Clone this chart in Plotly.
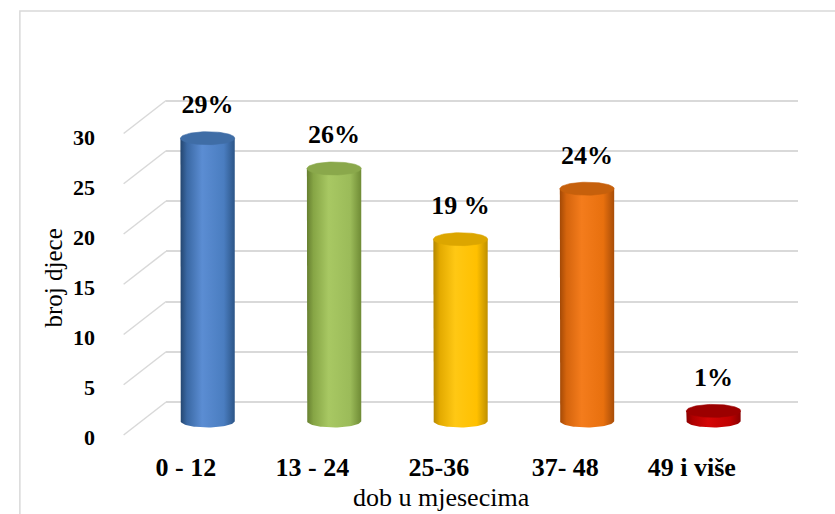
import numpy as np
import plotly.graph_objects as go

# ---- data ----
categories = ["0 - 12", "13 - 24", "25-36", "37- 48", "49 i više"]
counts = [28, 25, 18, 23, 1]
pct_labels = ["29%", "26%", "19 %", "24%", "1%"]
y_ticks = [0, 5, 10, 15, 20, 25, 30]
y_title = "broj djece"
x_title = "dob u mjesecima"

# ---- styling / layout helpers ----
W, H = 835, 514
def xf(px): return px / W
def yf(py): return 1 - py / H

SERIF = "Liberation Serif"
GRID = "#d9d9d9"

body_scales = [
    [[0, "#24466f"], [0.12, "#3a68a3"], [0.4, "#5b8dd3"], [0.8, "#4a7dc0"], [1, "#2c5587"]],
    [[0, "#667f30"], [0.12, "#86a545"], [0.4, "#a8c863"], [0.8, "#9bbb59"], [1, "#6f8b35"]],
    [[0, "#b38600"], [0.12, "#e3aa00"], [0.4, "#ffc814"], [0.8, "#ffc000"], [1, "#bf9000"]],
    [[0, "#a34906"], [0.12, "#d4640d"], [0.4, "#f47c1c"], [0.8, "#e8700e"], [1, "#a84d08"]],
    [[0, "#8a0000"], [0.12, "#b00000"], [0.4, "#d40606"], [0.8, "#c00000"], [1, "#8a0000"]],
]
top_colors = ["#3f6da6", "#8aa84b", "#dca600", "#c6600c", "#9c0000"]

# plot area geometry (pixels)
PX_L, PX_R = 158, 798
PY_T, PY_B = 60, 480
BAR_PX = 128.0        # px per category
BAR0_PX = 200.0       # pixel of first bar centre
Y0_BAR, YK_BAR = 421.0, 10.1     # bar axis zero pixel and px/unit
Y0_GRID, YK_GRID = 402.0, 10.05  # grid plane
Y0_LAB, YK_LAB = 437.0, 10.0     # front tick labels

xr0 = -(BAR0_PX - PX_L) / BAR_PX
xr1 = xr0 + (PX_R - PX_L) / BAR_PX
def yrange(zero_px, k):
    return [-(PY_B - zero_px) / k, (zero_px - PY_T) / k]

RX = 27.5 / BAR_PX
RY = 6.5 / YK_BAR

fig = go.Figure()

t_front = np.linspace(np.pi, 2 * np.pi, 40)
t_full = np.linspace(0, 2 * np.pi, 80)
for i, v in enumerate(counts):
    cx = i
    xs = [cx - RX, cx - RX] + list(cx + RX * np.cos(t_front)) + [cx + RX, cx - RX]
    ys = [v, 0] + list(RY * np.sin(t_front)) + [v, v]
    fig.add_trace(go.Scatter(
        x=xs, y=ys, mode="lines", fill="toself",
        line=dict(width=0, color="rgba(0,0,0,0)"),
        fillgradient=dict(type="horizontal", colorscale=body_scales[i]),
        hoverinfo="skip", showlegend=False))
    fig.add_trace(go.Scatter(
        x=list(cx + RX * np.cos(t_full)), y=list(v + RY * np.sin(t_full)),
        mode="lines", fill="toself", fillcolor=top_colors[i],
        line=dict(width=0.6, color=top_colors[i]),
        hoverinfo="skip", showlegend=False))

# percentage labels
fig.add_trace(go.Scatter(
    x=list(range(len(counts))), y=[v + RY + 1.2 for v in counts],
    mode="text", text=["<b>%s</b>" % s for s in pct_labels], textposition="top center",
    textfont=dict(family=SERIF, size=26, color="black"),
    hoverinfo="skip", showlegend=False))

# invisible anchors for auxiliary axes
fig.add_trace(go.Scatter(x=[0], y=[0], xaxis="x", yaxis="y2", mode="markers",
                         marker=dict(opacity=0), hoverinfo="skip", showlegend=False))
fig.add_trace(go.Scatter(x=[0], y=[0], xaxis="x2", yaxis="y3", mode="markers",
                         marker=dict(opacity=0), hoverinfo="skip", showlegend=False))

# diagonal side-wall parts of grid lines
shapes = []
for v in y_ticks:
    shapes.append(dict(type="line", xref="paper", yref="y2",
                       x0=xf(115), y0=v - 33 / YK_GRID, x1=xf(PX_L), y1=v,
                       line=dict(color=GRID, width=1.5), layer="below"))
# outer border
shapes.append(dict(type="rect", xref="paper", yref="paper",
                   x0=xf(10), y0=yf(11), x1=xf(850), y1=yf(530),
                   line=dict(color=GRID, width=1.5)))

fig.update_layout(
    width=W, height=H, margin=dict(l=0, r=0, t=0, b=0),
    paper_bgcolor="white", plot_bgcolor="rgba(0,0,0,0)",
    showlegend=False, shapes=shapes,
    font=dict(family=SERIF, color="black"),
    xaxis=dict(domain=[xf(PX_L), xf(PX_R)], range=[xr0, xr1], visible=False),
    yaxis=dict(domain=[yf(PY_B), yf(PY_T)], range=yrange(Y0_BAR, YK_BAR), visible=False),
    yaxis2=dict(overlaying="y", range=yrange(Y0_GRID, YK_GRID), tickvals=y_ticks,
                showgrid=True, gridcolor=GRID, gridwidth=1.5, showticklabels=False,
                zeroline=False, showline=False, layer="below traces"),
    xaxis2=dict(overlaying="x", anchor="free", position=yf(449),
                range=[xr0 + 22 / BAR_PX, xr1 + 22 / BAR_PX],
                tickvals=list(range(len(categories))),
                ticktext=["<b>%s</b>" % c for c in categories],
                showgrid=False, zeroline=False, showline=False, ticks="",
                tickfont=dict(family=SERIF, size=26, color="black")),
    yaxis3=dict(overlaying="y", anchor="free", position=xf(86), side="left",
                range=yrange(Y0_LAB, YK_LAB), tickvals=y_ticks,
                ticktext=["<b>%d</b>" % t for t in y_ticks],
                showgrid=False, zeroline=False, showline=False, ticks="",
                tickfont=dict(family=SERIF, size=22, color="black")),
    annotations=[
        dict(text=y_title, x=xf(44), y=yf(278), xref="paper", yref="paper",
             xanchor="center", yanchor="middle",
             textangle=-90, showarrow=False,
             font=dict(family=SERIF, size=25, color="black")),
        dict(text=x_title, x=xf(437), y=yf(497), xref="paper", yref="paper",
             xanchor="center", yanchor="middle",
             showarrow=False, font=dict(family=SERIF, size=26, color="black")),
    ],
)

fig.write_html("out.html", config={"displayModeBar": False},
               post_script="document.body.style.margin='0';document.body.style.overflow='hidden';")
